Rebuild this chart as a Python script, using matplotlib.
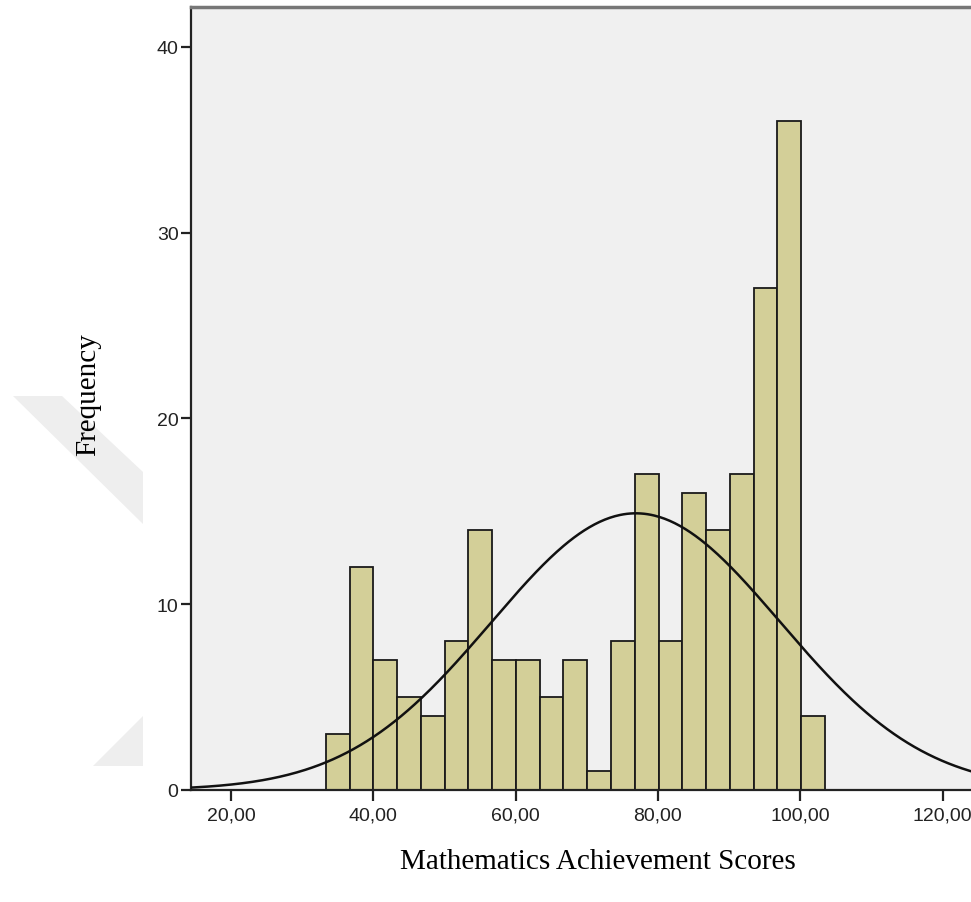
import numpy as np
import matplotlib.pyplot as plt
from matplotlib.patches import Polygon

# histogram bins (left edge of first bin, bin width) and counts
bin_start = 33.35
bin_width = 3.338
counts = [3, 12, 7, 5, 4, 8, 14, 7, 7, 5, 7, 1, 8, 17, 8, 16, 14, 17, 27, 36, 4]

# fitted normal curve parameters
mean_score = 76.9
sd_score = 20.3

xticks = [20, 40, 60, 80, 100, 120]
xtick_labels = ["20,00", "40,00", "60,00", "80,00", "100,00", "120,00"]
yticks = [0, 10, 20, 30, 40]

W, H = 971, 903
fig = plt.figure(figsize=(W / 100, H / 100), dpi=100)
fig.patch.set_facecolor("white")

# faint watermark in the left margin
wm1 = Polygon([(13 / W, 1 - 397 / H), (62 / W, 1 - 397 / H), (143 / W, 1 - 473 / H), (143 / W, 1 - 525 / H)],
              closed=True, transform=fig.transFigure, facecolor="#eeeeee", edgecolor="none", zorder=0)
wm2 = Polygon([(93 / W, 1 - 767 / H), (143 / W, 1 - 717 / H), (143 / W, 1 - 767 / H)],
              closed=True, transform=fig.transFigure, facecolor="#eeeeee", edgecolor="none", zorder=0)
fig.patches.extend([wm1, wm2])

ax = fig.add_axes([191 / W, 112 / H, 780 / W, 783 / H])
ax.set_facecolor("#f0f0f0")

edges = bin_start + bin_width * np.arange(len(counts) + 1)
ax.bar(edges[:-1], counts, width=bin_width, align="edge",
       color="#d3cf98", edgecolor="#1a1a1a", linewidth=1.3, zorder=2)

n = sum(counts)
xs = np.linspace(10, 130, 500)
ys = n * bin_width / (sd_score * np.sqrt(2 * np.pi)) * np.exp(-0.5 * ((xs - mean_score) / sd_score) ** 2)
ax.plot(xs, ys, color="#111111", linewidth=1.8, zorder=3)

ax.set_xlim(14.38, 124.0)
ax.set_ylim(0, 42.14)
ax.set_xticks(xticks)
ax.set_xticklabels(xtick_labels)
ax.set_yticks(yticks)

for lab in ax.get_xticklabels() + ax.get_yticklabels():
    lab.set_family("Liberation Sans")
    lab.set_fontsize(14)
    lab.set_color("#222222")

ax.tick_params(axis="x", length=8, width=1.6, color="#222222", pad=4)
ax.tick_params(axis="y", length=7, width=1.6, color="#222222", pad=2)

ax.spines["right"].set_visible(False)
ax.spines["left"].set_color("#222222")
ax.spines["left"].set_linewidth(1.6)
ax.spines["bottom"].set_color("#222222")
ax.spines["bottom"].set_linewidth(1.6)
ax.spines["top"].set_color("#777777")
ax.spines["top"].set_linewidth(2.5)

fig.text(598 / W, 1 - 862 / H, "Mathematics Achievement Scores", family="Liberation Serif",
         fontsize=21, ha="center", va="center", color="black")
fig.text(88 / W, 1 - 395 / H, "Frequency", family="Liberation Serif",
         fontsize=21, ha="center", va="center", rotation=90, color="black")

fig.savefig("out.png", dpi=100)
